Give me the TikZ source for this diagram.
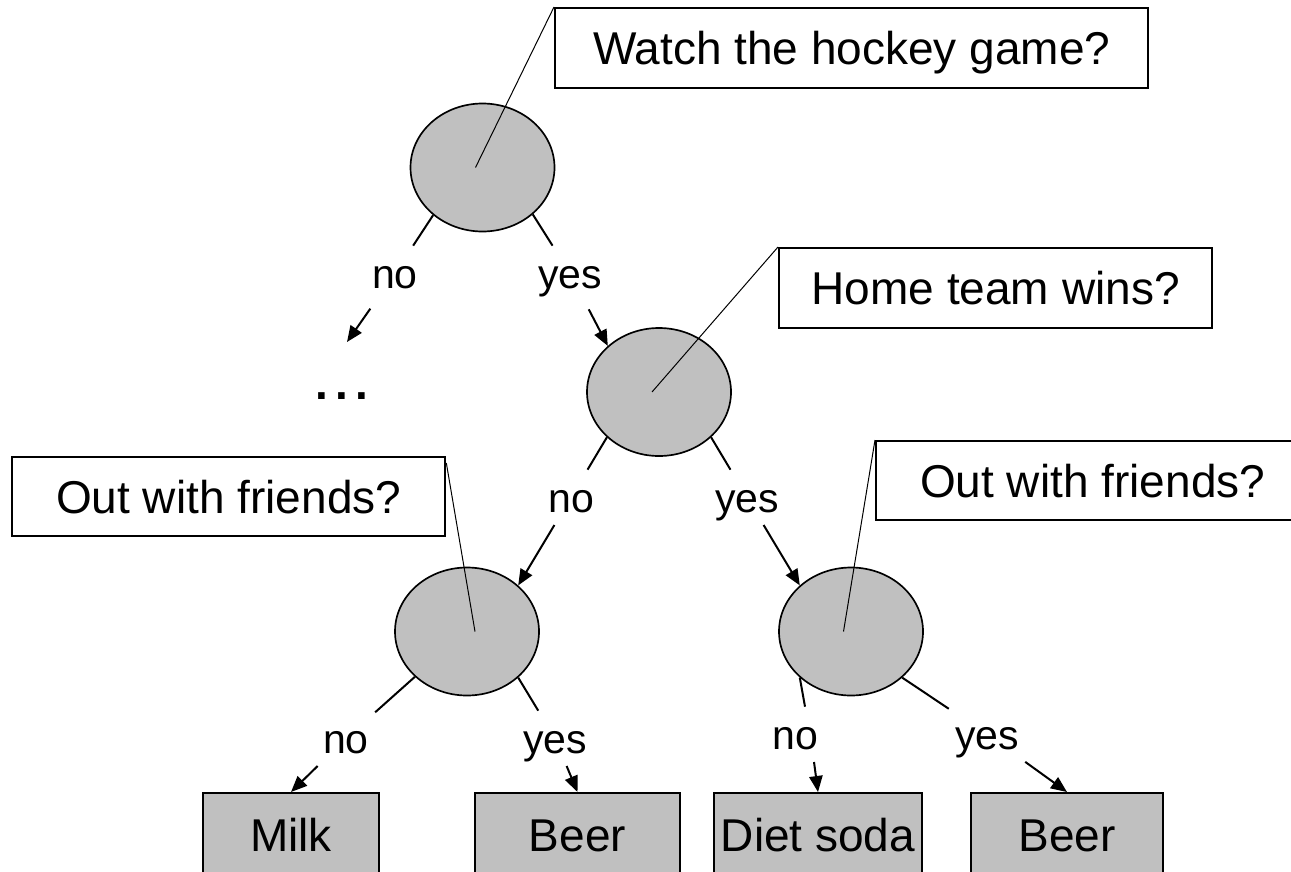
\documentclass[tikz,border=0pt]{standalone}
\usepackage{fontspec}
\setmainfont{Liberation Sans}
\usetikzlibrary{arrows.meta,calc,shapes.geometric}

\definecolor{nodegray}{RGB}{192,192,192}

\tikzset{every picture/.style={line width=1.5pt}}
\tikzset{
  test/.style={draw, ellipse, fill=nodegray, line width=1.25pt, minimum width=108pt, minimum height=96pt, inner sep=0pt},
  question/.style={draw, rectangle, fill=white, line width=1.75pt, anchor=north west, minimum height=60pt, text height=24.7pt, text depth=0pt, inner sep=0pt, font=\fontsize{34.5}{40}\selectfont},
  leaf/.style={draw, rectangle, fill=nodegray, line width=1.75pt, anchor=north, minimum height=62.25pt, text height=24.7pt, text depth=0pt, inner sep=0pt, font=\fontsize{34.5}{40}\selectfont},
  answer/.style={anchor=base, text height=22pt, text depth=0pt, inner xsep=4pt, inner ysep=9pt, font=\fontsize{30.75}{36}\selectfont},
  edge/.style={line width=1.5pt},
  arrowline/.style={line width=1.5pt, -{Triangle[length=12pt,width=10pt]}},
  leader/.style={line width=0.75pt},
}

\begin{document}
\begin{tikzpicture}[x=0.75pt,y=0.75pt,yscale=-1,xscale=1]
\useasboundingbox (0,0) rectangle (1291,871);
\clip (0,0) rectangle (1291,871);

% Ellipse
\node[test] (c1) at (482.5,167.5) {};
\node[test] (c2) at (659,392) {};
\node[test] (c3) at (467,631.5) {};
\node[test] (c4) at (851,631.5) {};

% Text Node
\node[question, minimum width=444.75pt] (watch) at (554,7) {Watch the hockey game?};
\node[question, minimum width=324.75pt] (home) at (778,247) {Home team wins?};
\node[question, minimum width=324.75pt, minimum height=59.25pt] (out1) at (11,456) {Out with friends?};
\node[question, minimum width=324.75pt, minimum height=59.25pt] (out2) at (875,440) {Out with friends?};

% Leaf Nodes
\node[leaf, minimum width=132pt] (milk) at (291,792) {Milk};
\node[leaf, minimum width=153.75pt] (beer1) at (577.5,792) {Beer};
\node[leaf, minimum width=156pt] (diet) at (818,792) {Diet soda};
\node[leaf, minimum width=144pt] (beer2) at (1067,792) {Beer};

% Text Node
\node[answer] (no1) at (395,288) {no};
\node[answer] (yes1) at (570,288) {yes};
\node[answer] (no2) at (571,512) {no};
\node[answer] (yes2) at (747,512) {yes};
\node[answer] (no3) at (346,753) {no};
\node[answer] (yes3) at (555,753) {yes};
\node[answer] (no4) at (795,749) {no};
\node[answer] (yes4) at (987,749) {yes};

\node[anchor=base, font=\fontsize{34.5}{40}\selectfont\bfseries] (dots) at (342,399.5) {.\kern0.15em.\kern0.15em.};
\coordinate (more) at (347,342);

% Straight Lines
\draw[leader] (watch.north west) -- ($(c1.center)+(-7,0)$);
\draw[leader] (home.north west) -- ($(c2.center)+(-7,0)$);
\draw[leader] ($(out1.north east)+(0,7)$) -- ($(c3.center)+(8,0)$);
\draw[leader] (out2.north west) -- ($(c4.center)+(-7.5,0)$);

\draw[edge] (c1.224) -- (no1);
\draw[arrowline, shorten <=7pt] (no1) -- (more);
\draw[edge] (c1.317) -- (yes1);
\draw[arrowline, shorten <=7pt] (yes1) -- (c2.138);

\draw[edge] (c2.221) -- (no2);
\draw[arrowline] (no2) -- (c3.42);
\draw[edge] (c2.319) -- (yes2);
\draw[arrowline] (yes2) -- (c4.138);

\draw[edge] (c3.221) -- (no3);
\draw[arrowline] (no3) -- (milk.north);
\draw[edge] (c3.318) -- (yes3);
\draw[arrowline] (yes3) -- (beer1.north);

\draw[edge] (c4.222) -- ($(no4.north)+(10,0)$);
\draw[arrowline] ($(no4.south)+(19,0)$) -- (diet.north);
\draw[edge] (c4.318) -- (yes4);
\draw[arrowline] (yes4) -- (beer2.north);

\end{tikzpicture}
\end{document}
